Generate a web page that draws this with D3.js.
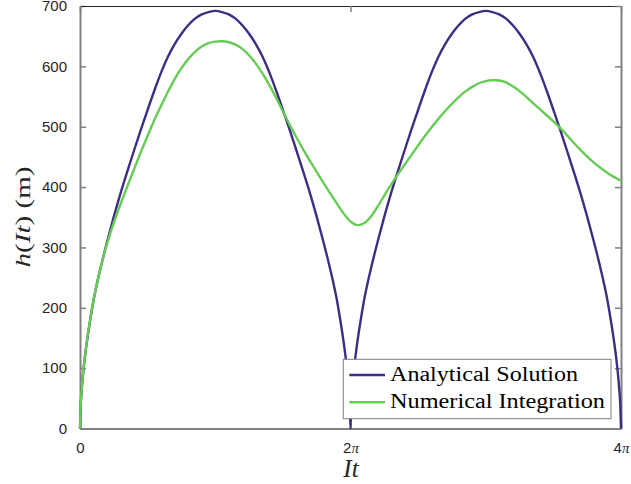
<!DOCTYPE html>
<html>
<head>
<meta charset="utf-8">
<script src="https://cdn.jsdelivr.net/npm/d3@7"></script>
<style>
  body { margin: 0; background: #fff; }
  .tick text { font-family: "Liberation Sans", Arial, sans-serif; font-size: 15px; fill: #262626; }
</style>
</head>
<body>
<svg id="chart"></svg>
<script>
// x values are multiples of pi (It / pi), y values are heights in m
const analyticalT = [0, 0.005, 0.01, 0.02, 0.035, 0.05, 0.075, 0.1, 0.15, 0.2, 0.25, 0.3, 0.35, 0.4, 0.45, 0.5,
  0.55, 0.6, 0.65, 0.7, 0.75, 0.8, 0.85, 0.9, 0.95, 1, 1.05, 1.1, 1.15, 1.2, 1.25, 1.3, 1.35, 1.4, 1.45, 1.5,
  1.55, 1.6, 1.65, 1.7, 1.75, 1.8, 1.85, 1.9, 1.925, 1.95, 1.965, 1.98, 1.99, 1.995, 2,
  2.005, 2.01, 2.02, 2.035, 2.05, 2.075, 2.1, 2.15, 2.2, 2.25, 2.3, 2.35, 2.4, 2.45, 2.5,
  2.55, 2.6, 2.65, 2.7, 2.75, 2.8, 2.85, 2.9, 2.95, 3, 3.05, 3.1, 3.15, 3.2, 3.25, 3.3, 3.35, 3.4, 3.45, 3.5,
  3.55, 3.6, 3.65, 3.7, 3.75, 3.8, 3.85, 3.9, 3.925, 3.95, 3.965, 3.98, 3.99, 3.995, 4];
const analyticalH = [0, 38, 56, 84, 116, 142, 179, 212, 264, 309, 351, 390, 426, 461, 495, 528,
  560, 590, 616, 637, 654, 668, 679, 686, 690, 692, 690, 686, 679, 668, 654, 637, 616, 590, 560, 528,
  495, 461, 426, 390, 351, 309, 264, 212, 179, 142, 116, 84, 56, 38, 0,
  38, 56, 84, 116, 142, 179, 212, 264, 309, 351, 390, 426, 461, 495, 528,
  560, 590, 616, 637, 654, 668, 679, 686, 690, 692, 690, 686, 679, 668, 654, 637, 616, 590, 560, 528,
  495, 461, 426, 390, 351, 309, 264, 212, 179, 142, 116, 84, 56, 38, 0];

const numericalT = [0, 0.005, 0.01, 0.02, 0.035, 0.05, 0.075, 0.1, 0.15, 0.2, 0.25, 0.3, 0.35, 0.4, 0.45, 0.5,
  0.55, 0.6, 0.65, 0.7, 0.75, 0.8, 0.85, 0.9, 0.95, 1, 1.05, 1.1, 1.15, 1.2, 1.25, 1.3, 1.35, 1.4, 1.45, 1.5,
  1.55, 1.6, 1.65, 1.7, 1.75, 1.8, 1.85, 1.9, 1.95, 2, 2.05, 2.1, 2.15, 2.2, 2.25, 2.3, 2.35, 2.4, 2.45, 2.5,
  2.55, 2.6, 2.65, 2.7, 2.75, 2.8, 2.85, 2.9, 2.95, 3, 3.05, 3.1, 3.15, 3.2, 3.25, 3.3, 3.35, 3.4, 3.45, 3.5,
  3.55, 3.6, 3.65, 3.7, 3.75, 3.8, 3.85, 3.9, 3.95, 4];
const numericalH = [0, 40, 58, 86, 118, 144, 180, 213, 264, 306, 341, 372, 401, 430, 458, 485,
  511, 535, 558, 579, 597, 612, 624, 633, 638.5, 641, 641.5, 640, 636, 629, 618.5, 604.5, 588, 569, 548, 525.5,
  503.5, 482.5, 462.5, 443.5, 425, 407, 389.5, 372.5, 356, 343, 337, 340, 351, 367.5, 386, 404, 421, 437, 453, 469,
  484.5, 499, 513, 526, 538, 549, 558.5, 566, 572, 575.5, 577, 576.5, 573.5, 567, 559, 549.5, 539, 529, 519, 509,
  498, 486, 473.5, 461.5, 450.5, 440.5, 431.5, 423.5, 416.5, 410.5];

const xTicks = [0, 2, 4];
const xTickLabels = ["0", "2π", "4π"];
const yTicks = [0, 100, 200, 300, 400, 500, 600, 700];
const seriesNames = ["Analytical Solution", "Numerical Integration"];
const seriesColors = ["#3f2d84", "#66cc55"];

const W = 631, H = 484;
const margin = { top: 6, right: 10, bottom: 55.5, left: 80 },
    width = W - margin.left - margin.right,
    height = H - margin.top - margin.bottom;

const root = d3.select("#chart").attr("width", W).attr("height", H);
const svg = root.append("g").attr("transform", `translate(${margin.left},${margin.top})`);

const xScale = d3.scaleLinear().domain([0, 4]).range([0, width]);
const yScale = d3.scaleLinear().domain([0, 700]).range([height, 0]);

root.append("defs").append("clipPath").attr("id", "plot-clip")
    .append("rect").attr("x", -2).attr("y", -2).attr("width", width + 4).attr("height", height + 4);

// axes (matlab style: ticks pointing inward, box on)
const axisColor = "#808080";
const xAxis = svg.append("g")
    .attr("transform", `translate(0,${height})`)
    .call(d3.axisBottom(xScale).tickValues(xTicks).tickSizeInner(-6).tickSizeOuter(0).tickFormat(""));
xAxis.selectAll(".tick text").each(function(d, i) {
    const t = d3.select(this);
    const lab = xTickLabels[i];
    t.append("tspan").text(lab[0]);
    if (lab.length > 1) {
        t.append("tspan").attr("font-family", "'Liberation Serif', serif").attr("font-style", "italic")
            .attr("font-size", "15px").text(lab.slice(1));
    }
});
xAxis.selectAll(".tick text").attr("dy", "0.75em").attr("y", 13);

const yAxis = svg.append("g")
    .call(d3.axisLeft(yScale).tickValues(yTicks).tickSizeInner(-6).tickSizeOuter(0).tickPadding(13));

// top and right axes (ticks only)
const xTop = svg.append("g")
    .call(d3.axisTop(xScale).tickValues(xTicks).tickSizeInner(-6).tickSizeOuter(0).tickFormat(""));
const yRight = svg.append("g")
    .attr("transform", `translate(${width},0)`)
    .call(d3.axisRight(yScale).tickValues(yTicks).tickSizeInner(-6).tickSizeOuter(0).tickFormat(""));

[xAxis, yAxis, xTop, yRight].forEach(a => {
    a.select(".domain").attr("stroke", axisColor).attr("stroke-width", 2);
    a.selectAll(".tick line").attr("stroke", axisColor).attr("stroke-width", 1.5);
});
xTop.select(".domain").attr("stroke", "#262626").attr("stroke-width", 1.2);

// lines
const curves = [d3.curveMonotoneX, d3.curveCatmullRom.alpha(0.5)];

const series = [
    analyticalT.map((t, i) => [t, analyticalH[i]]),
    numericalT.map((t, i) => [t, numericalH[i]])
];

const plot = svg.append("g").attr("clip-path", "url(#plot-clip)");
series.forEach((s, i) => {
    const line = d3.line()
        .x(d => xScale(d[0]))
        .y(d => yScale(d[1]))
        .curve(curves[i]);
    plot.append("path")
        .datum(s)
        .attr("fill", "none")
        .attr("stroke", seriesColors[i])
        .attr("stroke-width", 2.4)
        .attr("stroke-linejoin", "round")
        .attr("d", line);
});

// legend
const lg = svg.append("g").attr("transform", `translate(${343.3 - margin.left},${359.3 - margin.top})`);
lg.append("rect")
    .attr("width", 267.7).attr("height", 59.4)
    .attr("fill", "#fff").attr("stroke", "#808080").attr("stroke-width", 1);
const legendWidths = [188, 215];
seriesNames.forEach((name, i) => {
    const cy = 15.7 + i * 27.3;
    lg.append("line")
        .attr("x1", 6).attr("x2", 41.7).attr("y1", cy).attr("y2", cy)
        .attr("stroke", seriesColors[i]).attr("stroke-width", 2.4);
    lg.append("text")
        .attr("x", 46.7).attr("y", cy + 6)
        .attr("font-family", "'Liberation Serif', 'DejaVu Serif', serif")
        .attr("font-size", "20px")
        .attr("fill", "#000")
        .attr("textLength", legendWidths[i])
        .attr("lengthAdjust", "spacingAndGlyphs")
        .text(name);
});

// axis labels
root.append("text")
    .attr("x", 351).attr("y", 477)
    .attr("text-anchor", "middle")
    .attr("font-family", "'Liberation Serif', serif")
    .attr("font-size", "25px")
    .attr("font-style", "italic")
    .attr("fill", "#262626")
    .text("It");

const yl = root.append("text")
    .attr("transform", "translate(30,217) rotate(-90)")
    .attr("text-anchor", "middle")
    .attr("font-family", "'Liberation Serif', serif")
    .attr("font-size", "22px")
    .attr("fill", "#262626")
    .attr("textLength", 101)
    .attr("lengthAdjust", "spacingAndGlyphs");
yl.append("tspan").attr("font-style", "italic").text("h");
yl.append("tspan").text("(");
yl.append("tspan").attr("font-style", "italic").text("It");
yl.append("tspan").text(") (m)");
</script>
</body>
</html>
